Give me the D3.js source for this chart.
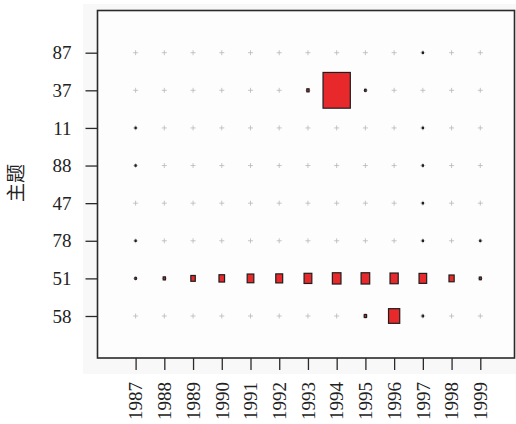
<!DOCTYPE html>
<html>
<head>
<meta charset="utf-8">
<script src="https://cdn.jsdelivr.net/npm/d3@7"></script>
<style>
  html, body { margin: 0; padding: 0; background: #ffffff; }
  svg { display: block; }
</style>
</head>
<body>
<svg id="chart" width="516" height="424"></svg>
<script>
// Years along the bottom, topics down the side
const years = ["1987","1988","1989","1990","1991","1992","1993","1994","1995","1996","1997","1998","1999"];
const topics = ["87","37","11","88","47","78","51","58"];

// One row of weights per topic, one value per year
const row87 = [0, 0, 0, 0, 0, 0, 0, 0, 0, 0, 0.3, 0, 0];
const row37 = [0, 0, 0, 0, 0, 0, 1.4, 200, 0.6, 0, 0, 0, 0];
const row11 = [0.3, 0, 0, 0, 0, 0, 0, 0, 0, 0, 0.3, 0, 0];
const row88 = [0.3, 0, 0, 0, 0, 0, 0, 0, 0, 0, 0.3, 0, 0];
const row47 = [0, 0, 0, 0, 0, 0, 0, 0, 0, 0, 0.3, 0, 0];
const row78 = [0.3, 0, 0, 0, 0, 0, 0, 0, 0, 0, 0.3, 0, 0.3];
const row51 = [0.55, 1.4, 5.3, 8.4, 11.9, 12.8, 16.2, 19.9, 19.9, 18, 15.6, 7.2, 1.1];
const row58 = [0, 0, 0, 0, 0, 0, 0, 0, 1.4, 33.7, 0.4, 0, 0];

const rows = [row87, row37, row11, row88, row47, row78, row51, row58];

const cells = [];
topics.forEach((t, i) => {
  years.forEach((y, j) => cells.push({ topic: t, year: y, value: rows[i][j] }));
});

const svg = d3.select("#chart");

// Panel background and plot frame
svg.append("rect").attr("x", 83).attr("y", 4).attr("width", 433).attr("height", 370)
  .attr("fill", "#f8f8f8");
svg.append("rect").attr("x", 97.5).attr("y", 10.5).attr("width", 417).attr("height", 347.5)
  .attr("fill", "#fdfdfd").attr("stroke", "#2a2a2a").attr("stroke-width", 1.6);

const x = d3.scalePoint().domain(years).range([135.6, 480.3]);
const y = d3.scalePoint().domain(topics).range([52.7, 316]);
const stepX = x.step(), stepY = y.step();

// Rectangle side as a fraction of the cell, area proportional to value
const maxV = d3.max(cells, d => d.value);
const size = d3.scaleSqrt().domain([0, maxV]).range([0, 0.95]);

// Faint cross at every grid cell
const marks = svg.append("g");
cells.forEach(d => {
  const cx = x(d.year), cy = y(d.topic);
  marks.append("path")
    .attr("d", `M${cx - 2.5},${cy}H${cx + 2.5}M${cx},${cy - 2.5}V${cy + 2.5}`)
    .attr("stroke", "#b8b8b8").attr("stroke-width", 0.8).attr("fill", "none");
});

// Value rectangles
svg.append("g").selectAll("rect")
  .data(cells.filter(d => d.value > 0))
  .join("rect")
  .attr("x", d => x(d.year) - size(d.value) * stepX / 2)
  .attr("y", d => y(d.topic) - size(d.value) * stepY / 2)
  .attr("width", d => size(d.value) * stepX)
  .attr("height", d => size(d.value) * stepY)
  .attr("fill", "#e8292b")
  .attr("stroke", "#1e1e1e")
  .attr("stroke-width", 1.2);

const font = "'Liberation Serif', 'DejaVu Serif', serif";

// Bottom axis
const gx = svg.append("g").attr("transform", "translate(0,358)")
  .call(d3.axisBottom(x).tickSize(12).tickPadding(10));
gx.select(".domain").remove();
gx.selectAll(".tick line").attr("stroke", "#2a2a2a").attr("stroke-width", 1.3);
gx.selectAll(".tick text")
  .attr("font-family", font).attr("font-size", 19).attr("fill", "#222")
  .attr("transform", "rotate(-90)")
  .attr("text-anchor", "end")
  .attr("x", -24).attr("y", 0).attr("dy", "0.33em");

// Left axis
const gy = svg.append("g").attr("transform", "translate(97.5,0)")
  .call(d3.axisLeft(y).tickSize(12).tickPadding(14));
gy.select(".domain").remove();
gy.selectAll(".tick line").attr("stroke", "#2a2a2a").attr("stroke-width", 1.3);
gy.selectAll(".tick text")
  .attr("font-family", font).attr("font-size", 19).attr("fill", "#222");

// Axis title
svg.append("text")
  .attr("transform", "translate(16,183) rotate(-90)")
  .attr("text-anchor", "middle").attr("dy", "0.35em")
  .attr("font-family", "'Noto Sans CJK SC', sans-serif")
  .attr("font-size", 19).attr("fill", "#222")
  .text("主题");
</script>
</body>
</html>
